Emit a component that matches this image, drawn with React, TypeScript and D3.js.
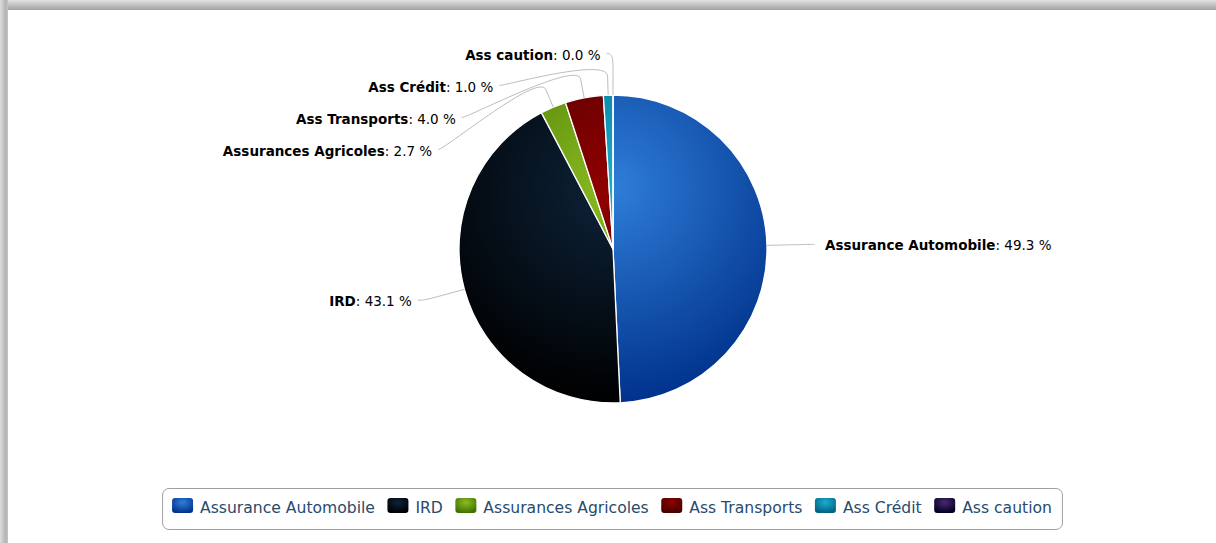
import React from 'react';
import * as d3 from 'd3';

const categories = ['Assurance Automobile', 'IRD', 'Assurances Agricoles', 'Ass Transports', 'Ass Crédit', 'Ass caution'];
const shares = [49.3, 43.1, 2.7, 4.0, 1.0, 0.0];
const colors = ['#2f7ed8', '#0d233a', '#8bbc21', '#910000', '#1aadce', '#492970'];

const W = 1216;
const H = 543;
const cx = 613;
const cy = 249;
const r = 154;
const labelR = 195.5;
const breakOff = 19;
const slotGap = 32;

const labelFont = '"DejaVu Sans", Verdana, sans-serif';
const labelSize = 13.5;
const legendSize = 15.6;

function darken(hex: string): string {
  const c = d3.rgb(hex);
  return d3.rgb(Math.max(0, c.r - 76), Math.max(0, c.g - 76), Math.max(0, c.b - 76)).formatHex();
}

let ctx: CanvasRenderingContext2D | null = null;
function textWidth(t: string, font: string): number {
  if (!ctx) ctx = document.createElement('canvas').getContext('2d');
  if (!ctx) return t.length * 8;
  ctx.font = font;
  return ctx.measureText(t).width;
}

export default function App() {
  const arcs = d3.pie<number>().sort(null).startAngle(0).endAngle(2 * Math.PI)(shares);
  const arcGen = d3.arc<d3.PieArcDatum<number>>().innerRadius(0).outerRadius(r);

  type L = { i: number; mid: number; left: boolean; ny: number; y: number; x: number };
  const labels: L[] = arcs.map((a, i) => {
    const mid = (a.startAngle + a.endAngle) / 2;
    const left = mid > Math.PI;
    const ny = cy - labelR * Math.cos(mid);
    return { i, mid, left, ny, y: ny, x: 0 };
  });
  [true, false].forEach((side) => {
    const grp = labels.filter((l) => l.left === side).sort((a, b) => a.ny - b.ny);
    let prev = -Infinity;
    grp.forEach((l) => {
      l.y = Math.max(l.ny, prev + slotGap);
      prev = l.y;
    });
  });
  labels.forEach((l) => {
    const dy = l.y - cy;
    const dx = Math.sqrt(Math.max(0, labelR * labelR - dy * dy));
    l.x = cx + (l.left ? -dx : dx);
  });

  const lf = `${legendSize}px ${labelFont}`;
  const symW = 21;
  const symH = 15;
  const symPad = 7;
  const itemDist = 12.5;
  const boxPad = 10;
  const widths = categories.map((c) => textWidth(c, lf));
  let acc = 0;
  const itemX = widths.map((w, i) => {
    const x = acc;
    acc += symW + symPad + w + (i < widths.length - 1 ? itemDist : 0);
    return x;
  });
  const boxW = acc + boxPad * 2;
  const boxX = 612 - boxW / 2;
  const boxY = 488;
  const boxH = 41;

  return (
    <svg width={W} height={H} style={{ position: 'absolute', left: 0, top: 0, background: '#fff' }}>
      <defs>
        {colors.map((c, i) => (
          <radialGradient key={'g' + i} id={'slice' + i} gradientUnits="userSpaceOnUse" cx={0} cy={-r + 0.3 * 2 * r} r={0.7 * 2 * r}>
            <stop offset="0" stopColor={c} />
            <stop offset="1" stopColor={darken(c)} />
          </radialGradient>
        ))}
        {colors.map((c, i) => (
          <radialGradient key={'s' + i} id={'sym' + i} cx="0.5" cy="0.3" r="0.7">
            <stop offset="0" stopColor={c} />
            <stop offset="1" stopColor={darken(c)} />
          </radialGradient>
        ))}
        <linearGradient id="topShade" x1="0" y1="0" x2="0" y2="1">
          <stop offset="0" stopColor="#e2e2e2" />
          <stop offset="1" stopColor="#a2a2a2" />
        </linearGradient>
        <linearGradient id="leftShade" x1="0" y1="0" x2="1" y2="0">
          <stop offset="0" stopColor="#dedede" />
          <stop offset="0.7" stopColor="#b4b4b4" />
          <stop offset="1" stopColor="#c4c4c4" />
        </linearGradient>
      </defs>
      <rect x={0} y={0} width={W} height={H} fill="#fff" />
      <rect x={0} y={0} width={W} height={10} fill="url(#topShade)" />
      <rect x={0} y={0} width={8} height={H} fill="url(#leftShade)" />

      <g transform={`translate(${cx},${cy})`}>
        {arcs.map((a, i) => (
          <path key={i} d={arcGen(a) || ''} fill={`url(#slice${i})`} stroke="#fff" strokeWidth={1.3} strokeLinejoin="round" />
        ))}
      </g>

      <g fill="none" stroke="#bdbdbd" strokeWidth={1}>
        {labels.map((l) => {
          const ex = cx + r * Math.sin(l.mid);
          const ey = cy - r * Math.cos(l.mid);
          const bx = cx + (r + breakOff) * Math.sin(l.mid);
          const by = cy - (r + breakOff) * Math.cos(l.mid);
          const sx = l.x + (l.left ? -6.5 : 6);
          const d = `M${sx},${l.y}C${l.x},${l.y} ${2 * bx - ex},${2 * by - ey} ${bx},${by}L${ex},${ey}`;
          return <path key={l.i} d={d} />;
        })}
      </g>

      <g fontFamily={labelFont} fontSize={labelSize} fill="#000">
        {labels.map((l) => (
          <text key={l.i} x={l.left ? l.x - 12.5 : l.x + 16.5} y={l.y + 6} textAnchor={l.left ? 'end' : 'start'}>
            <tspan fontWeight="bold">{categories[l.i]}</tspan>
            <tspan>{`: ${shares[l.i].toFixed(1)} %`}</tspan>
          </text>
        ))}
      </g>

      <g>
        <rect x={boxX + 0.5} y={boxY + 0.5} width={boxW} height={boxH} rx={6.5} ry={6.5} fill="#fff" stroke="#a0a0a0" strokeWidth={1} />
        {categories.map((c, i) => {
          const x0 = boxX + boxPad + itemX[i];
          return (
            <g key={c}>
              <rect x={x0} y={498} width={symW} height={symH} rx={3} ry={3} fill={`url(#sym${i})`} />
              <text x={x0 + symW + symPad} y={512.5} fontFamily={labelFont} fontSize={legendSize} fill="#274b6d">
                {c}
              </text>
            </g>
          );
        })}
      </g>
    </svg>
  );
}
